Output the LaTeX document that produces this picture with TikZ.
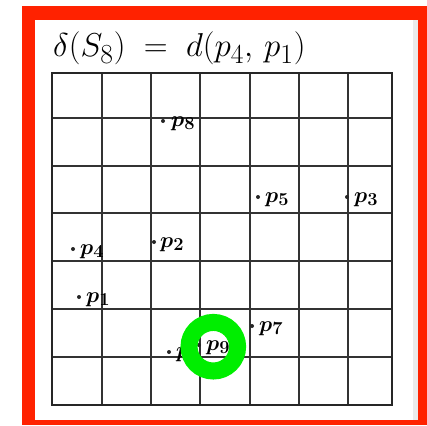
\documentclass[tikz,border=0pt]{standalone}
\usepackage{graphicx}
\usepackage{amsmath}
\definecolor{framered}{RGB}{255,34,0}
\definecolor{ringgreen}{RGB}{0,238,0}
\newcommand{\plab}[1]{\scalebox{0.88}{$p_{#1}$}}
\begin{document}
\begin{tikzpicture}[x=1pt,y=-1pt,
  gridline/.style={line width=1.8pt,draw=black!80},
  frameline/.style={line width=2.6pt,draw=black!85},
  pdot/.style={circle,fill=black!85,inner sep=0pt,minimum size=4pt},
  plabel/.style={anchor=base west,inner sep=0pt,font=\Huge\boldmath},
  ring/.style={draw=ringgreen,line width=17pt}]
\useasboundingbox (0,0) rectangle (427,425);
% red frame
\fill[framered] (22,6) rectangle (427,425);
\fill[white] (35,20) rectangle (418,420);
\fill[black!8] (413,20) rectangle (418,420);
% title
\node[anchor=base west,inner sep=0pt,font=\Huge] (title) at (53,57)
  {\scalebox{1.33}{$\delta(S_8)\;=\;d(p_4,\,p_1)$}};
% grid
\foreach \x in {102,151,200,250,299,348}
  \draw[gridline] (\x,73) -- (\x,405);
\foreach \y in {118,166,213,261,309,357}
  \draw[gridline] (52,\y) -- (392,\y);
\draw[frameline] (52,73) rectangle (392,405);
% points
\node[pdot] (d8) at (163,121) {};
\node[pdot] (d4) at (73,249) {};
\node[pdot] (d2) at (154,242) {};
\node[pdot] (d5) at (258,197) {};
\node[pdot] (d3) at (347,197) {};
\node[pdot] (d1) at (79,297) {};
\node[pdot] (d7) at (252,326) {};
\node[pdot] (d9) at (199,345) {};
\node[pdot] (d6) at (169,352) {};
\node[plabel] (l8) at (171,126) {\plab{8}};
\node[plabel] (l4) at (80,254) {\plab{4}};
\node[plabel] (l2) at (160,247) {\plab{2}};
\node[plabel] (l5) at (265,202) {\plab{5}};
\node[plabel] (l3) at (354,202) {\plab{3}};
\node[plabel] (l1) at (86,302) {\plab{1}};
\node[plabel] (l7) at (259,331) {\plab{7}};
\node[plabel] (l9) at (206,350) {\plab{9}};
\node[plabel] (l6) at (176,357) {\plab{6}};
% green ring
\draw[ring] (213.3,346.7) circle[radius=24.3];
\end{tikzpicture}
\end{document}
